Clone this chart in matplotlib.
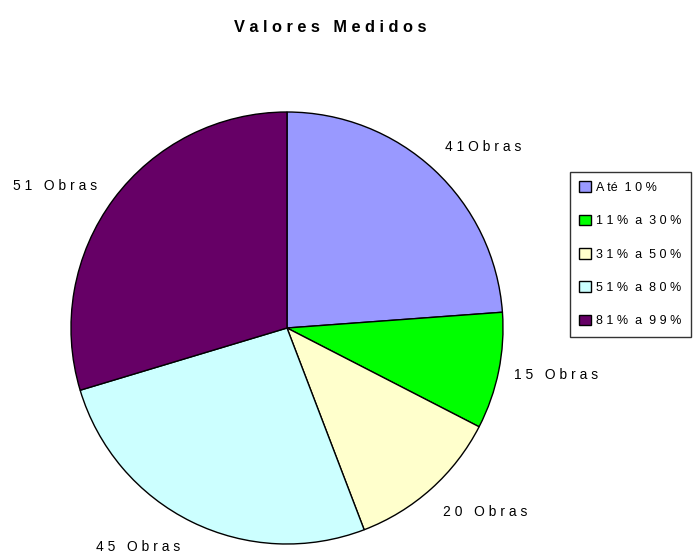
import matplotlib
matplotlib.use("Agg")
import matplotlib.pyplot as plt

plt.rcParams['font.family'] = ['Liberation Sans', 'DejaVu Sans']

# data
obras = [41, 15, 20, 45, 51]
faixas = ["A té  1 0 %", "1 1 %  a  3 0 %", "3 1 %  a  5 0 %", "5 1 %  a  8 0 %", "8 1 %  a  9 9 %"]
rotulos = ["4 1 O b r a s", "1 5   O b r a s", "2 0   O b r a s", "4 5   O b r a s", "5 1   O b r a s"]
cores = ["#9999FF", "#00FF00", "#FFFFCC", "#CCFFFF", "#660066"]
titulo = "V a l o r e s   M e d i d o s"

W, H = 695, 557
fig = plt.figure(figsize=(W / 100, H / 100), dpi=100)
ax = fig.add_axes([0, 0, 1, 1])

cx, cy, r = 287, H - 328, 216
wedges, texts = ax.pie(obras, colors=cores, startangle=90, counterclock=False,
                       center=(cx, cy), radius=r, labels=rotulos, labeldistance=1.12,
                       wedgeprops=dict(edgecolor='black', linewidth=1.0),
                       textprops=dict(fontsize=10))
ax.set_xlim(0, W)
ax.set_ylim(0, H)
ax.set_aspect('equal')
ax.axis('off')

# label spots like the original (pixel positions from top-left)
pos = [(445, 147, 'left'), (514, 375, 'left'), (443, 512, 'left'), (180, 547, 'right'), (97, 186, 'right')]
for t, (x, y, ha) in zip(texts, pos):
    t.set_position((x, H - y))
    t.set_ha(ha)
    t.set_va('center')

fig.text(330 / W, 1 - 27 / H, titulo, ha='center', va='center', fontsize=11.8, fontweight='bold')

leg = fig.legend(wedges, faixas, loc='upper left', bbox_to_anchor=(570 / W, 1 - 172 / H),
                 fontsize=9, frameon=True, fancybox=False, handlelength=0.95, handleheight=0.95,
                 handletextpad=0.4, labelspacing=1.65, borderpad=0.75, borderaxespad=0)
leg.get_frame().set_edgecolor('black')
leg.get_frame().set_linewidth(1.0)

fig.savefig("out.png", dpi=100)
